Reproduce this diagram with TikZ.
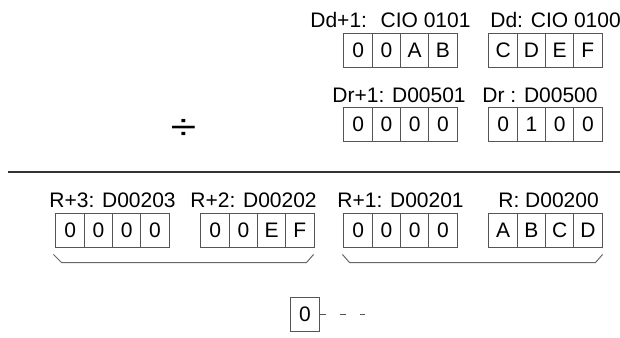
\documentclass[tikz,border=0pt]{standalone}
\usepackage{fontspec}
\setmainfont{Liberation Sans}
\usepackage{tikz}
\usetikzlibrary{positioning,calc}
\definecolor{boxline}{HTML}{555555}
\definecolor{rule}{HTML}{333333}
\definecolor{brace}{HTML}{666666}
\tikzset{
  cell/.style={draw=boxline,line width=0.5pt,inner sep=0pt,minimum width=14.15pt,
    minimum height=17pt,font=\fontsize{10.5}{12}\selectfont},
  reglabel/.style={anchor=base west,inner sep=0pt,font=\fontsize{10.5}{12}\selectfont},
  bracket/.style={draw=brace,line width=0.5pt},
  sep/.style={draw=rule,line width=1pt},
  tail/.style={draw=boxline,line width=0.5pt,dash pattern=on 3pt off 7pt}
}
% one register of four digits: name, left x, top y, digits
\newcommand{\register}[4]{%
  \foreach \d [count=\i] in {#4}
    \node[cell] (#1-\i) at ({#2+14.125+(\i-1)*28.25},{#3+17}) {\d};}

\begin{document}
\begin{tikzpicture}[x=0.5pt,y=-0.5pt]
  \useasboundingbox (0,0) rectangle (620,337);
  % dividend
  \register{dd1}{344}{33}{0,0,A,B}
  \register{dd}{489}{33}{C,D,E,F}
  \node[reglabel] (ldd1) at (310,27) {Dd+1:~ CIO 0101};
  \node[reglabel] (ldd) at (490,27) {Dd: CIO 0100};
  % divisor
  \register{dr1}{344}{107}{0,0,0,0}
  \register{dr}{489}{107}{0,1,0,0}
  \node[reglabel] (ldr1) at (332,102) {Dr+1: D00501};
  \node[reglabel] (ldr) at (482,102) {Dr : D00500};
  \node[font=\fontsize{18}{20}\selectfont,inner sep=0pt] (div) at (183.5,129) {\scalebox{1.3}[1]{÷}};
  \coordinate (sepl) at (8,172);
  \coordinate (sepr) at (620,172);
  \draw[sep] (sepl) -- (sepr);
  % result
  \register{r3}{56}{213}{0,0,0,0}
  \register{r2}{201}{213}{0,0,E,F}
  \register{r1}{344}{213}{0,0,0,0}
  \register{r0}{489}{213}{A,B,C,D}
  \node[reglabel] (lr3) at (49,207) {R+3: D00203};
  \node[reglabel] (lr2) at (190,207) {R+2: D00202};
  \node[reglabel] (lr1) at (337,207) {R+1: D00201};
  \node[reglabel] (lr0) at (498,207) {R: D00200};
  \draw[bracket] ($(r3-1.south west)+(-2,7)$) -- ++(8,8) -- ($(r2-4.south east)+(-8,15)$) -- ++(7,-8);
  \draw[bracket] ($(r1-1.south west)+(-1,7)$) -- ++(7,8) -- ($(r0-4.south east)+(-7,15)$) -- ++(7,-8);
  % remainder
  \node[cell] (rem) at (305,314) {0};
  \coordinate (remend) at (365,314);
  \draw[tail] (rem.east) -- (remend);
\end{tikzpicture}
\end{document}
